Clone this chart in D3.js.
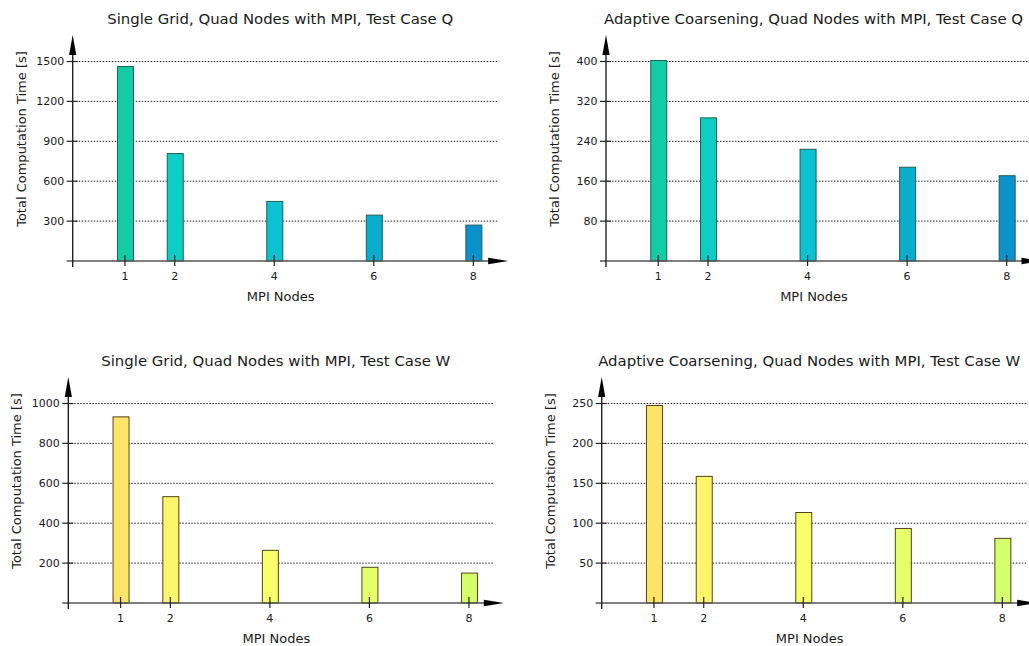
<!DOCTYPE html>
<html>
<head>
<meta charset="utf-8">
<script src="https://cdn.jsdelivr.net/npm/d3@7"></script>
<style>
  body { margin: 0; background: #fff; }
  svg text { font-family: "DejaVu Sans", sans-serif; fill: #1a1a1a; }
</style>
</head>
<body>
<svg id="chart" width="1029" height="646"></svg>
<script>
// data
const nodes = [1, 2, 4, 6, 8];
const singleQ = [1462, 808, 448, 345, 270];
const adaptiveQ = [402, 287, 224, 188, 171];
const singleW = [933, 533, 264, 179, 150];
const adaptiveW = [247.5, 158.7, 113.4, 93.4, 81];

const ticksSingleQ = [300, 600, 900, 1200, 1500];
const ticksAdaptiveQ = [80, 160, 240, 320, 400];
const ticksSingleW = [200, 400, 600, 800, 1000];
const ticksAdaptiveW = [50, 100, 150, 200, 250];

const colorsQ = ["#12cca6", "#0dcec4", "#0dc2d0", "#0aadcc", "#0b92cc"];
const colorsW = ["#ffe468", "#fff56a", "#f8ff6a", "#e4ff6a", "#d4ff6a"];

const panels = [
  { title: "Single Grid, Quad Nodes with MPI, Test Case Q", values: singleQ, ticks: ticksSingleQ, colors: colorsQ, stroke: "#1f5f58", ox: 72.7, oy: 261 },
  { title: "Adaptive Coarsening, Quad Nodes with MPI, Test Case Q", values: adaptiveQ, ticks: ticksAdaptiveQ, colors: colorsQ, stroke: "#1f5f58", ox: 606, oy: 261 },
  { title: "Single Grid, Quad Nodes with MPI, Test Case W", values: singleW, ticks: ticksSingleW, colors: colorsW, stroke: "#54431a", ox: 68.3, oy: 603 },
  { title: "Adaptive Coarsening, Quad Nodes with MPI, Test Case W", values: adaptiveW, ticks: ticksAdaptiveW, colors: colorsW, stroke: "#54431a", ox: 601.7, oy: 603 }
];

const svg = d3.select("#chart");

function arrowPath(len, half) {
  return `M0,0 L${-len},${-half} L${-len},${half} Z`;
}

panels.forEach(p => {
  const g = svg.append("g").attr("transform", `translate(${p.ox},${p.oy})`);

  const x = d3.scaleLinear().domain([-0.05, 8.7]).range([0, 435.5]);
  const top = p.ticks[p.ticks.length - 1];
  const y = d3.scaleLinear().domain([0, top]).range([0, -199.5]);

  // dotted grid
  g.append("g").selectAll("line").data(p.ticks).join("line")
    .attr("x1", 0).attr("x2", 425)
    .attr("y1", d => y(d)).attr("y2", d => y(d))
    .attr("stroke", "#222").attr("stroke-width", 1)
    .attr("stroke-dasharray", "1.5,1.5");

  // bars
  const bw = 16;
  g.append("g").selectAll("rect").data(p.values).join("rect")
    .attr("x", (d, i) => x(nodes[i]) - bw / 2 + 0.5)
    .attr("y", d => y(d))
    .attr("width", bw)
    .attr("height", d => -y(d))
    .attr("fill", (d, i) => p.colors[i])
    .attr("stroke", p.stroke)
    .attr("stroke-width", 1);

  // x axis line + arrow
  g.append("line").attr("x1", -6).attr("x2", x(8.7) - 14).attr("y1", 0).attr("y2", 0)
    .attr("stroke", "#555").attr("stroke-width", 1.4);
  g.append("path").attr("d", arrowPath(20, 3.2))
    .attr("transform", `translate(${x(8.7)},0)`)
    .attr("fill", "#000");

  // y axis line + arrow
  g.append("line").attr("x1", 0).attr("x2", 0).attr("y1", 6).attr("y2", -210)
    .attr("stroke", "#222").attr("stroke-width", 1.4);
  g.append("path").attr("d", arrowPath(20, 3.6))
    .attr("transform", `translate(0,-226) rotate(-90)`)
    .attr("fill", "#000");

  // y ticks and labels
  const yt = g.append("g").selectAll("g").data(p.ticks).join("g")
    .attr("transform", d => `translate(0,${y(d)})`);
  yt.append("line").attr("x1", -6).attr("x2", 5).attr("stroke", "#222").attr("stroke-width", 1.2);
  yt.append("text").attr("x", -8.5).attr("dy", "0.36em")
    .attr("text-anchor", "end").style("font-size", "11px").text(d => d);

  // x ticks and labels
  const xt = g.append("g").selectAll("g").data(nodes).join("g")
    .attr("transform", d => `translate(${x(d)},0)`);
  xt.append("line").attr("y1", -6).attr("y2", 5).attr("stroke", "#222").attr("stroke-width", 1.2);
  xt.append("text").attr("y", 18.5).attr("text-anchor", "middle")
    .style("font-size", "11px").text(d => d);

  // titles and axis labels
  g.append("text").attr("x", 207.5).attr("y", -237)
    .attr("text-anchor", "middle").style("font-size", "14.9px").text(p.title);
  g.append("text").attr("x", 208).attr("y", 40)
    .attr("text-anchor", "middle").style("font-size", "13px").text("MPI Nodes");
  g.append("text").attr("transform", "translate(-47,-122) rotate(-90)")
    .attr("text-anchor", "middle").style("font-size", "13px").text("Total Computation Time [s]");
});
</script>
</body>
</html>
